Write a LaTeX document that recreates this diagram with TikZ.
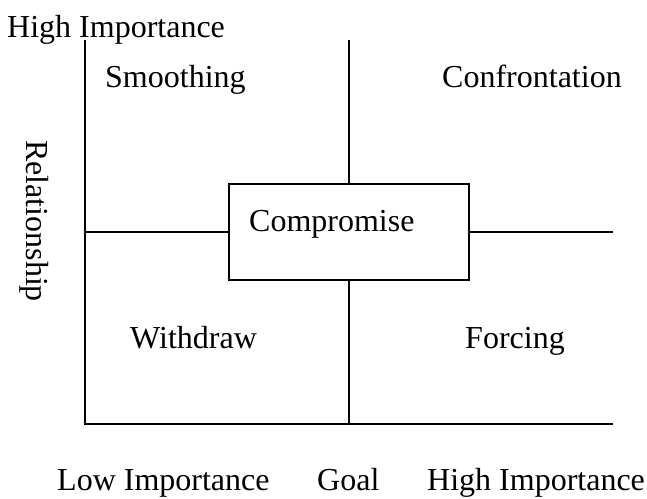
\documentclass[tikz,border=0pt]{standalone}
\usepackage{fontspec}
\setmainfont{Liberation Serif}
\begin{document}
\begin{tikzpicture}[x=1pt,y=-1pt,
  lbl/.style={anchor=base west,inner sep=0pt,font=\fontsize{32}{38}\selectfont},
  ln/.style={line width=1.3pt}]
\useasboundingbox (0,0) rectangle (647,498);
\node[lbl] (hiy) at (7,37) {High Importance};
\node[lbl] (smo) at (105,87) {Smoothing};
\node[lbl] (con) at (442,87) {Confrontation};
\node[lbl] (wit) at (130,348) {Withdraw};
\node[lbl] (for) at (465,348) {Forcing};
\node[lbl] (low) at (57,490) {Low Importance};
\node[lbl] (goal) at (317,490) {Goal};
\node[lbl] (hix) at (427,490) {High Importance};
\node[inner sep=0pt,font=\fontsize{32}{38}\selectfont,rotate=-90] (rel) at (34,221) {Relationship};
\node[draw,ln,minimum width=240pt,minimum height=96pt,inner sep=0pt] (box) at (349,232) {};
\node[lbl] (comp) at (249,231) {Compromise};
\coordinate (tl) at (85,40);
\coordinate (bl) at (85,424);
\coordinate (br) at (613,424);
\coordinate (tc) at (349,40);
\coordinate (bc) at (349,424);
\coordinate (ml) at (85,232);
\coordinate (mr) at (613,232);
\draw[ln] (tl) -- (bl) -- (br);
\draw[ln] (tc) -- (box.north);
\draw[ln] (box.south) -- (bc);
\draw[ln] (ml) -- (box.west);
\draw[ln] (box.east) -- (mr);
\end{tikzpicture}
\end{document}
